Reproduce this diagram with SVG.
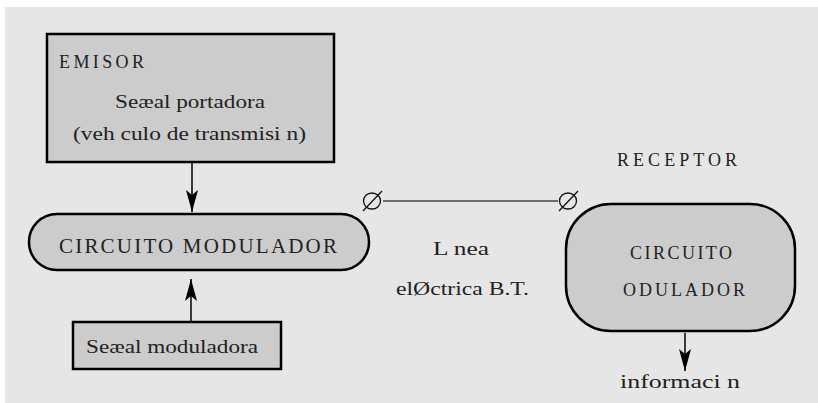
<svg xmlns="http://www.w3.org/2000/svg" width="818" height="403" viewBox="0 0 818 403">
<style>
.box{fill:#cccccc;stroke:#000;stroke-width:2.5}
.cap{font-family:"Liberation Serif",serif;fill:#222}
.low{font-family:"Liberation Serif",serif;font-size:19px;fill:#222}
.conn{stroke:#000;stroke-width:1.5;fill:none}
</style>
<defs>
<marker id="ah" viewBox="0 0 22 12" refX="22" refY="6" markerWidth="22" markerHeight="12" markerUnits="userSpaceOnUse" orient="auto">
<path d="M0,0 L22,6 L0,12 L5,6 Z" fill="#000"/>
</marker>
</defs>
<rect x="5" y="7" width="813" height="396" fill="#e6e6e6"/>
<g id="emisor">
<rect class="box" x="47" y="34" width="287" height="128"/>
<text class="cap" x="59" y="68" font-size="18" textLength="85" lengthAdjust="spacing">EMISOR</text>
<text class="low" x="115" y="108" textLength="150" lengthAdjust="spacingAndGlyphs">Seæal portadora</text>
<text class="low" x="73" y="140" textLength="233" lengthAdjust="spacingAndGlyphs">(veh culo de transmisi n)</text>
</g>
<g id="modulador">
<rect class="box" x="29" y="214" width="340" height="56" rx="28" ry="28"/>
<text class="cap" x="59" y="253" font-size="21" textLength="278" lengthAdjust="spacing">CIRCUITO MODULADOR</text>
</g>
<g id="senal-moduladora">
<rect class="box" x="73" y="322" width="208" height="47"/>
<text class="low" x="86" y="353" textLength="172" lengthAdjust="spacingAndGlyphs">Seæal moduladora</text>
</g>
<g id="receptor-label">
<text class="cap" x="617" y="166" font-size="18" textLength="120" lengthAdjust="spacing">RECEPTOR</text>
</g>
<g id="demodulador">
<rect class="box" x="566" y="204" width="229" height="127" rx="45" ry="45"/>
<text class="cap" x="630" y="259" font-size="18" textLength="102" lengthAdjust="spacing">CIRCUITO</text>
<text class="cap" x="623" y="296" font-size="18" textLength="122" lengthAdjust="spacing">ODULADOR</text>
</g>
<g id="linea-label">
<text class="low" x="433" y="255" textLength="56" lengthAdjust="spacingAndGlyphs">L nea</text>
<text class="low" x="396" y="295" textLength="133" lengthAdjust="spacingAndGlyphs">elØctrica B.T.</text>
</g>
<g id="informacion">
<text class="low" x="620" y="388" textLength="120" lengthAdjust="spacingAndGlyphs">informaci n</text>
</g>
<g id="connectors">
<line class="conn" x1="192" y1="163" x2="192" y2="212" marker-end="url(#ah)"/>
<line class="conn" x1="191" y1="321" x2="191" y2="279" marker-end="url(#ah)"/>
<line class="conn" x1="685" y1="333" x2="685" y2="371" marker-end="url(#ah)"/>
<line x1="383" y1="201" x2="558" y2="201" stroke="#444" stroke-width="1.5"/>
<g fill="none" stroke="#111" stroke-width="1.3">
<ellipse cx="372" cy="201" rx="8.5" ry="8"/>
<line x1="363" y1="211" x2="382" y2="191"/>
<ellipse cx="568" cy="201" rx="8.5" ry="8"/>
<line x1="559" y1="211" x2="578" y2="191"/>
</g>
</g>
</svg>
